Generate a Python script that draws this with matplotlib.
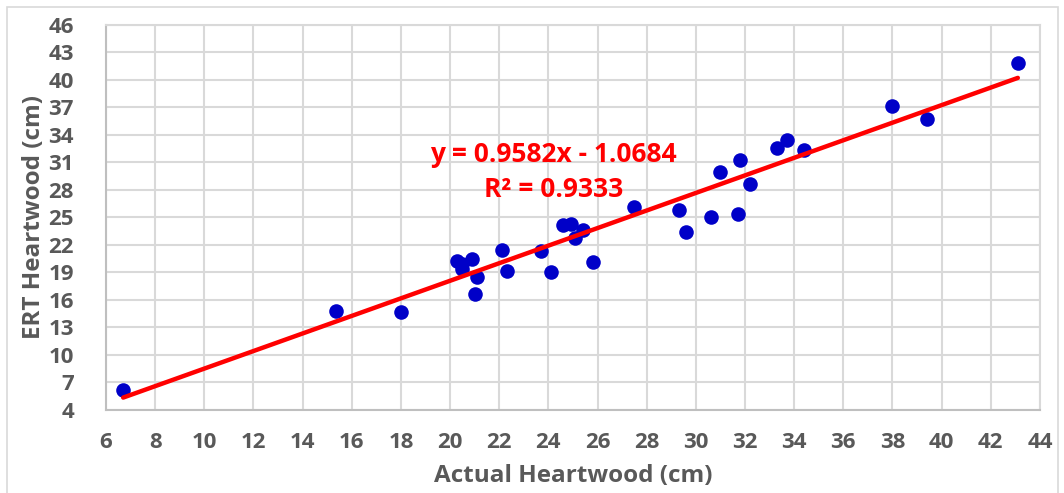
import numpy as np
import matplotlib.pyplot as plt
from matplotlib.patches import Rectangle

# Valores (cm)
actual = np.array([6.7, 15.35, 18.0, 20.3, 20.5, 20.5, 20.9, 21.1, 21.0,
                   22.1, 22.3, 23.7, 24.1, 24.6, 24.9, 25.1, 25.4, 25.8,
                   27.5, 29.3, 29.6, 30.6, 31.0, 31.7, 31.8, 32.2, 33.3,
                   33.7, 34.4, 38.0, 39.4, 43.1])
ert = np.array([6.2, 14.8, 14.7, 20.2, 19.9, 19.4, 20.5, 18.5, 16.7,
                21.5, 19.2, 21.3, 19.0, 24.2, 24.3, 22.8, 23.6, 20.1,
                26.1, 25.8, 23.4, 25.1, 30.0, 25.4, 31.3, 28.7, 32.6,
                33.4, 32.4, 37.2, 35.7, 41.9])

# Linha de tendência
slope = 0.9582
intercept = -1.0684
r2 = 0.9333

xticks = np.arange(6, 45, 2)
yticks = np.arange(4, 47, 3)

plt.rcParams['font.family'] = ['Open Sans', 'DejaVu Sans']
plt.rcParams['font.weight'] = 'bold'

fig = plt.figure(figsize=(10.64, 4.93), dpi=100)
ax = fig.add_axes([0.0996, 0.1684, 0.8778, 0.7809])

ax.grid(True, color='#d9d9d9', linewidth=1.5, zorder=0)
ax.set_axisbelow(True)

xs = np.array([actual.min(), actual.max()])
ax.plot(xs, slope * xs + intercept, color='#ff0000', linewidth=3.2,
        solid_capstyle='round', zorder=3)
ax.scatter(actual, ert, s=110, color='#0000c8', zorder=2, linewidths=0)

ax.set_xlim(6, 44)
ax.set_ylim(4, 46)
ax.set_xticks(xticks)
ax.set_yticks(yticks)
ax.tick_params(axis='both', length=0, labelsize=16, labelcolor='#595959')
ax.tick_params(axis='x', pad=16)
ax.tick_params(axis='y', pad=23)
for lab in ax.get_xticklabels() + ax.get_yticklabels():
    lab.set_fontweight('bold')

for side in ['top', 'right']:
    ax.spines[side].set_color('#d9d9d9')
    ax.spines[side].set_linewidth(1.5)
for side in ['left', 'bottom']:
    ax.spines[side].set_color('#bfbfbf')
    ax.spines[side].set_linewidth(1.5)

ax.set_xlabel('Actual Heartwood (cm)', fontsize=17.5, fontweight='bold',
              color='#595959', labelpad=8)
ax.set_ylabel('ERT Heartwood (cm)', fontsize=17.5, fontweight='bold',
              color='#595959', labelpad=2)

ax.text(24.2, 31.9, 'y = 0.9582x - 1.0684', color='#ff0000', fontsize=19,
        fontweight='bold', ha='center', va='center')
ax.text(24.2, 28.1, 'R² = %.4f' % r2, color='#ff0000', fontsize=19,
        fontweight='bold', ha='center', va='center')

fig.patches.append(Rectangle((0.007, -0.02), 0.987, 1.005, transform=fig.transFigure,
                             fill=False, edgecolor='#d9d9d9', linewidth=1.2))

fig.savefig('out.png', dpi=100)
